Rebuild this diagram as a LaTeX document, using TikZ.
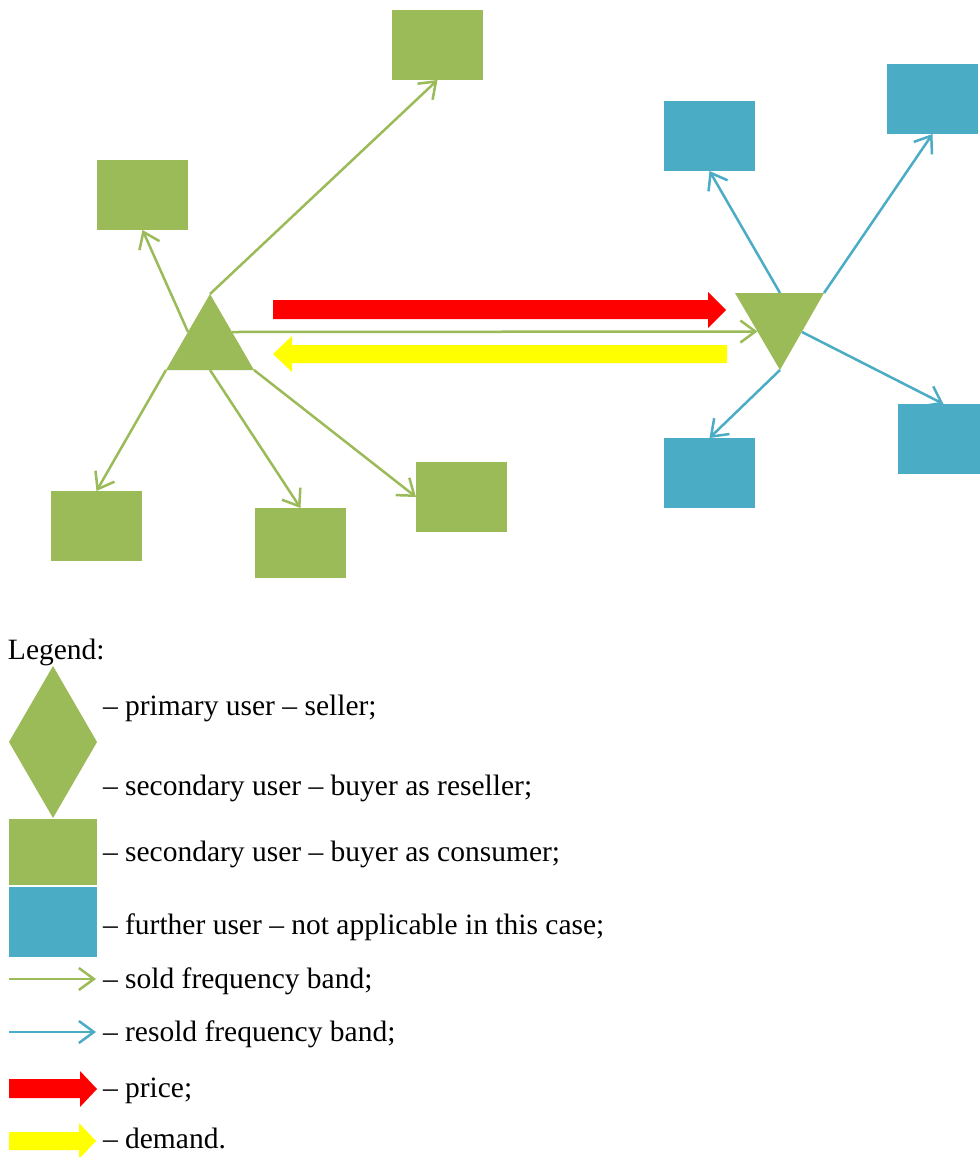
\documentclass[tikz,border=0pt]{standalone}
\usepackage{fontspec}
\setmainfont{Liberation Serif}
\usetikzlibrary{arrows.meta}
\definecolor{ggreen}{HTML}{9BBB59}
\definecolor{gblue}{HTML}{4BACC6}
\definecolor{pricered}{HTML}{FF0000}
\definecolor{demandyellow}{HTML}{FFFF00}
\begin{document}
\begin{tikzpicture}[x=1pt,y=-1pt,
  userbox/.style={minimum width=91pt,minimum height=70pt,inner sep=0pt,outer sep=0pt,draw=none},
  consbox/.style={userbox,fill=ggreen},
  furtherbox/.style={userbox,fill=gblue},
  soldarrow/.style={draw=ggreen,line width=2.5pt,-{Straight Barb[length=15pt,width=22pt]}},
  resoldarrow/.style={draw=gblue,line width=2.5pt,-{Straight Barb[length=15pt,width=22pt]}},
  lbl/.style={anchor=base west,inner sep=0pt,outer sep=0pt,font=\fontsize{29.5}{35}\selectfont}]
\clip (0,0) rectangle (980,1157);
\fill[white] (0,0) rectangle (980,1157);

% seller triangle
\coordinate (sA) at (210,294);
\coordinate (sL) at (166,370);
\coordinate (sR) at (254,370);
\fill[ggreen] (sA) -- (sR) -- (sL) -- cycle;
\coordinate (sLm) at (188,332);
\coordinate (sRm) at (232,332);
\coordinate (sBm) at (210,370);

% reseller triangle
\coordinate (rL) at (735,293);
\coordinate (rR) at (824,293);
\coordinate (rB) at (780,370);
\fill[ggreen] (rL) -- (rR) -- (rB) -- cycle;
\coordinate (rTm) at (780,293);
\coordinate (rLm) at (757.5,331.5);
\coordinate (rRm) at (802,332);

% consumers
\node[consbox] (g1) at (437.5,45) {};
\node[consbox] (g2) at (142.5,195) {};
\node[consbox] (g3) at (96.5,526) {};
\node[consbox] (g4) at (300.5,543) {};
\node[consbox] (g5) at (461.5,497) {};

% further users
\node[furtherbox] (b1) at (709.5,136) {};
\node[furtherbox] (b2) at (932.5,99) {};
\node[furtherbox] (b3) at (943.5,439) {};
\node[furtherbox] (b4) at (709.5,473) {};

% sold arrows
\draw[soldarrow] (sA) -- (g1.south);
\draw[soldarrow] (sLm) -- (g2.south);
\draw[soldarrow] (sL) -- (g3.north);
\draw[soldarrow] (sBm) -- (g4.north);
\draw[soldarrow] (sR) -- (g5.west);
\draw[soldarrow] (sRm) -- (rLm);

% resold arrows
\draw[resoldarrow] (rTm) -- (b1.south);
\draw[resoldarrow] (rR) -- (b2.south);
\draw[resoldarrow] (rRm) -- (b3.north);
\draw[resoldarrow] (rB) -- (b4.north);

% price and demand block arrows
\fill[pricered] (273,300) -- (708,300) -- (708,292) -- (726,310) -- (708,328) -- (708,319) -- (273,319) -- cycle;
\fill[demandyellow] (727,345) -- (292,345) -- (292,336) -- (273,354) -- (292,372) -- (292,363) -- (727,363) -- cycle;

% legend
\node[lbl] (legend) at (8,659) {Legend:};
\fill[ggreen] (53,666) -- (97,742) -- (53,818) -- (9,742) -- cycle;
\node[lbl] (lprimary) at (103,715) {– primary user – seller;};
\node[lbl] (lreseller) at (103,795) {– secondary user – buyer as reseller;};
\node[fill=ggreen,minimum width=88pt,minimum height=66pt,inner sep=0pt] (lcons) at (53,852) {};
\node[lbl] (lconsumer) at (103,861) {– secondary user – buyer as consumer;};
\node[fill=gblue,minimum width=88pt,minimum height=70pt,inner sep=0pt] (lfur) at (53,922) {};
\node[lbl] (lfurther) at (103,934) {– further user – not applicable in this case;};
\coordinate (ls0) at (9,979);
\coordinate (ls1) at (96,979);
\draw[soldarrow] (ls0) -- (ls1);
\node[lbl] (lsold) at (103,988) {– sold frequency band;};
\coordinate (lr0) at (9,1032);
\coordinate (lr1) at (96,1032);
\draw[resoldarrow] (lr0) -- (lr1);
\node[lbl] (lresold) at (103,1041) {– resold frequency band;};
\fill[pricered] (9,1079) -- (80,1079) -- (80,1071) -- (97,1089) -- (80,1107) -- (80,1098) -- (9,1098) -- cycle;
\node[lbl] (lprice) at (103,1097) {– price;};
\fill[demandyellow] (9,1132) -- (79,1132) -- (79,1123) -- (96,1141) -- (79,1159) -- (79,1150) -- (9,1150) -- cycle;
\node[lbl] (ldemand) at (103,1148) {– demand.};
\end{tikzpicture}
\end{document}
